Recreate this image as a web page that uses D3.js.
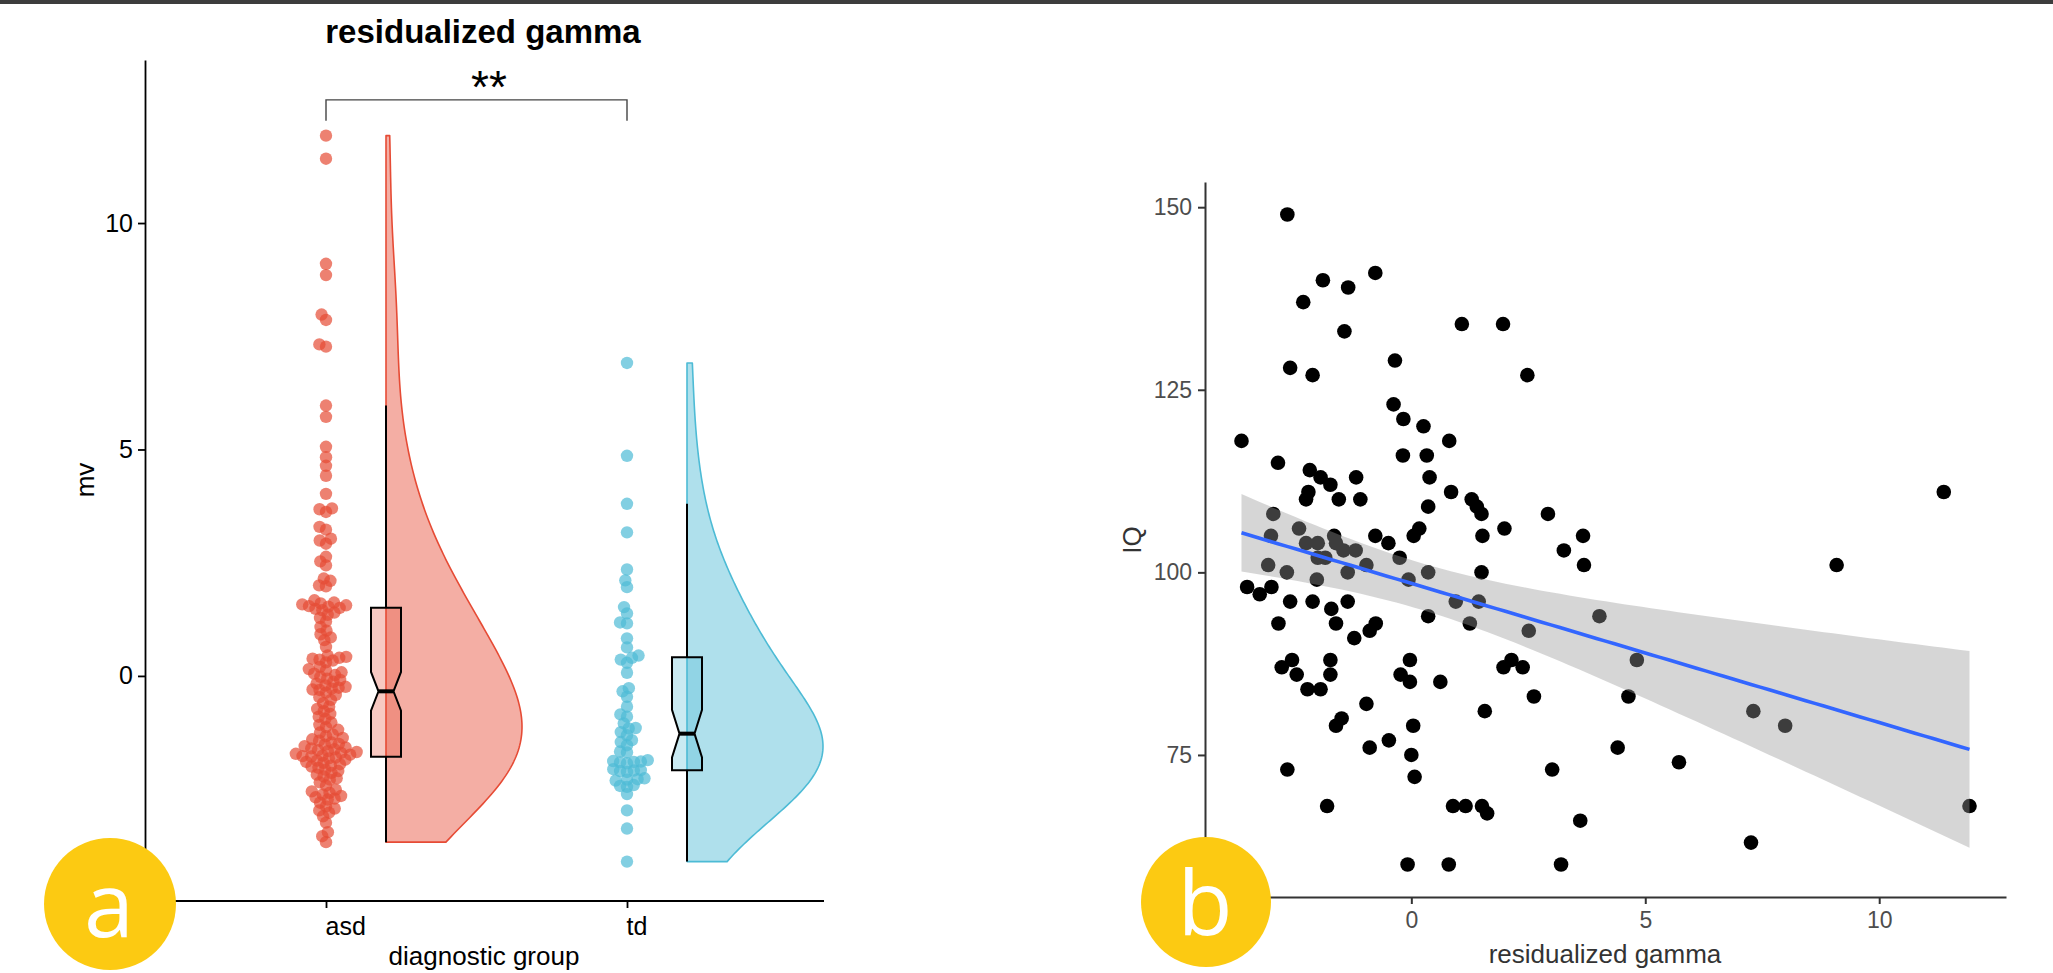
<!DOCTYPE html>
<html>
<head>
<meta charset="utf-8">
<script src="https://cdn.jsdelivr.net/npm/d3@7/dist/d3.min.js"></script>
<style>
html,body{margin:0;padding:0;background:#fff;}
svg{display:block;}
</style>
</head>
<body>
<svg id="chart" width="2053" height="973"></svg>
<script>
// ---------------- DATA ----------------
const groups = ["asd", "td"];
const asdValues = [11.93, 11.42, 9.10, 8.85, 7.98, 7.86, 7.32, 7.27, 5.97, 5.72, 5.06, 4.83, 4.64, 4.42, 4.02,
  3.70, 3.68, 3.62, 3.29, 3.23, 3.03, 2.99, 2.92, 2.63, 2.53, 2.44, 2.15, 2.10, 2.00, 1.98, 1.67, 1.62, 1.60, 1.58, 1.56, 1.54, 1.53,
  1.50, 1.48, 1.45, 1.40, 1.35, 1.28, 1.20, 1.08, 1.00, 0.92, 0.85, 0.79, 0.64, 0.45, 0.42, 0.40, 0.38, 0.36, 0.34, 0.30,
  0.20, 0.15, 0.12, 0.08, 0.05, 0.02, -0.02, -0.06, -0.09, -0.13, -0.17, -0.21, -0.24, -0.26, -0.28, -0.30, -0.31,
  -0.37, -0.42, -0.47, -0.53, -0.60, -0.68, -0.73, -0.78, -0.84, -0.90, -0.95, -1.03, -1.08, -1.13, -1.19, -1.25, -1.29,
  -1.33, -1.37, -1.40, -1.43, -1.47, -1.50, -1.52, -1.55, -1.58, -1.60, -1.62, -1.64, -1.66, -1.68, -1.70, -1.72, -1.74,
  -1.76, -1.77, -1.78, -1.80, -1.82, -1.85, -1.87, -1.90, -1.92, -1.95, -1.98, -2.00, -2.03, -2.07, -2.10, -2.14, -2.18,
  -2.22, -2.26, -2.29, -2.35, -2.42, -2.51, -2.55, -2.58, -2.62, -2.65, -2.68, -2.71, -2.73, -2.80, -2.88, -2.93, -2.97,
  -3.02, -3.10, -3.24, -3.45, -3.54, -3.67];
const tdValues = [6.91, 4.86, 3.80, 3.17, 2.35, 2.11, 1.96, 1.52, 1.38, 1.18, 1.16, 0.83, 0.63, 0.45, 0.40, 0.36, 0.29, 0.07,
  -0.27, -0.34, -0.46, -0.68, -0.85, -0.90, -1.05, -1.15, -1.16, -1.24, -1.31, -1.42, -1.46, -1.53, -1.67, -1.69,
  -1.86, -1.88, -1.89, -1.90, -1.91, -1.93, -2.06, -2.08, -2.09, -2.10, -2.12, -2.26, -2.28, -2.29, -2.31,
  -2.41, -2.43, -2.45, -2.61, -2.97, -3.37, -4.10];
const mvTicks = [0, 5, 10];
const significance = "**";

const gammaValues = [-2.65, -1.89, -1.35, -0.77, -2.31, -1.43, 1.08, 1.96, -2.59, -2.11, -0.35, 2.48, -3.63, -0.38, -0.17,
  0.26, 0.81, -2.85, -2.17, -1.94, -1.73, -1.18, -2.20, -2.25, -1.55, -1.09, -0.18, 0.33, 0.39, 0.85, 1.29, 1.40, 1.50,
  0.36, 2.92, 0.17, 1.99, 1.52, 3.67, 3.26, 3.69, 9.09, 11.38, -2.95, -3.00, -2.40, -2.25, -2.00, -1.65, -1.61, -1.45,
  -1.19, -0.77, -0.49, -0.25, 0.05, -3.06, -2.66, -2.00, -1.84, -0.96, -2.02, -1.36, 0.36, -0.06, 1.50, -3.51, -3.24,
  -2.99, -2.59, -2.11, -1.36, -1.71, 0.95, 1.44, -2.84, -1.61, -0.76, -0.89, -1.22, 0.36, 1.25, 2.51, 4.02, -0.03, 1.97,
  2.14, 2.38, 4.82, -2.77, -2.55, -2.45, -1.73, -1.73, -0.23, -0.03, 0.62, -2.22, -1.94, 2.62, 4.64, -0.96, 1.57, 7.31,
  -1.49, -1.61, 7.99, 0.04, -0.48, -0.89, 4.41, 0.00, 5.72, -2.65, 3.01, 0.07, -1.80, 0.89, 1.16, 1.51, 1.62, 11.93,
  3.61, 7.26, -0.08, 0.80, 3.20];
const iqValues = [149, 140, 139, 141, 137, 133, 134, 134, 128, 127, 129, 127, 118, 123, 121,
  120, 118, 115, 114, 113, 112, 113, 111, 110, 110, 110, 116, 116, 113, 111, 110, 109, 108,
  109, 108, 106, 106, 105, 105, 103, 101, 101, 111, 108, 105, 106, 104, 104, 105, 104, 103,
  103, 105, 104, 102, 105, 101, 100, 102, 102, 101, 99, 100, 100, 99, 100, 98, 97,
  98, 96, 96, 96, 95, 96, 96, 93, 93, 93, 92, 91, 94, 93, 92, 94, 88, 87,
  88, 87, 88, 87, 88, 86, 88, 86, 86, 85, 85, 84, 84, 83, 83, 82, 81, 81,
  80, 79, 79, 79, 77, 76, 76, 75, 74, 73, 73, 72, 68, 68, 68, 68, 67, 68,
  66, 63, 60, 60, 60];
const gammaTicks = [0, 5, 10];
const iqTicks = [75, 100, 125, 150];

// ---------------- SETUP ----------------
const FONT = "'Liberation Sans', Arial, Helvetica, sans-serif";
const svg = d3.select("#chart").attr("font-family", FONT);
svg.append("rect").attr("x", 0).attr("y", 0).attr("width", 2053).attr("height", 4).attr("fill", "#3d3d3d");

// ---------------- PANEL A ----------------
const colors = ["#E64B35", "#4DBBD5"];
const groupData = [asdValues, tdValues];
const xA = d3.scalePoint().domain(groups).range([326, 627]);
const yA = d3.scaleLinear().domain([-4.97, 13.6]).range([901, 60]);
const boxOffset = 60, boxHalf = 15, violinMaxW = 136, bwAdjust = 1.75;

const gA = svg.append("g");

function nrd0(sorted) {
  const s = d3.deviation(sorted);
  const iqr = d3.quantileSorted(sorted, 0.75) - d3.quantileSorted(sorted, 0.25);
  return 0.9 * Math.min(s, iqr / 1.34) * Math.pow(sorted.length, -0.2);
}

function swarmOffsets(vals, y, d) {
  const order = vals.map((v, i) => ({ i, y: y(v) })).sort((a, b) => b.y - a.y);
  const placed = [];
  const off = new Array(vals.length).fill(0);
  order.forEach(p => {
    const near = placed.filter(q => Math.abs(q.y - p.y) < d);
    const cands = [0];
    near.forEach(q => { const dx = Math.sqrt(d * d - (q.y - p.y) ** 2); cands.push(q.x + dx, q.x - dx); });
    cands.sort((a, b) => Math.abs(a) - Math.abs(b) || a - b);
    let x = 0;
    for (const c of cands) {
      if (near.every(q => (q.x - c) ** 2 + (q.y - p.y) ** 2 >= d * d - 1e-6)) { x = c; break; }
    }
    p.x = x; placed.push(p); off[p.i] = x;
  });
  return off;
}

groups.forEach((g, gi) => {
  const vals = groupData[gi];
  const sorted = vals.slice().sort(d3.ascending);
  const col = colors[gi];
  const cx = xA(g) + boxOffset;
  // violin (half, right side)
  const bw = nrd0(sorted) * bwAdjust;
  const lo = sorted[0], hi = sorted[sorted.length - 1];
  const grid = d3.range(256).map(k => lo + (hi - lo) * k / 255);
  const dens = grid.map(t => d3.sum(sorted, v => Math.exp(-0.5 * ((t - v) / bw) ** 2)));
  const wS = d3.scaleLinear().domain([0, d3.max(dens)]).range([0, violinMaxW]);
  const pts = [[cx, yA(lo)]].concat(grid.map((t, k) => [cx + wS(dens[k]), yA(t)])).concat([[cx, yA(hi)]]);
  gA.append("path").attr("d", d3.line()(pts) + "Z")
    .attr("fill", col).attr("fill-opacity", 0.45)
    .attr("stroke", col).attr("stroke-width", 1.6).attr("stroke-linejoin", "round");

  // boxplot
  const q1 = d3.quantileSorted(sorted, 0.25), med = d3.quantileSorted(sorted, 0.5), q3 = d3.quantileSorted(sorted, 0.75);
  const iqr = q3 - q1;
  const upW = d3.max(sorted.filter(v => v <= q3 + 1.5 * iqr));
  const loW = d3.min(sorted.filter(v => v >= q1 - 1.5 * iqr));
  const notch = 1.58 * iqr / Math.sqrt(sorted.length);
  const ni = boxHalf * 0.5;
  const L = cx - boxHalf, R = cx + boxHalf;
  gA.append("line").attr("x1", cx).attr("x2", cx).attr("y1", yA(q3)).attr("y2", yA(upW)).attr("stroke", "#000").attr("stroke-width", 2);
  gA.append("line").attr("x1", cx).attr("x2", cx).attr("y1", yA(q1)).attr("y2", yA(loW)).attr("stroke", "#000").attr("stroke-width", 2);
  const boxPts = [[L, yA(q3)], [L, yA(med + notch)], [L + ni, yA(med)], [L, yA(med - notch)], [L, yA(q1)],
    [R, yA(q1)], [R, yA(med - notch)], [R - ni, yA(med)], [R, yA(med + notch)], [R, yA(q3)]];
  gA.append("path").attr("d", d3.line()(boxPts) + "Z")
    .attr("fill", col).attr("fill-opacity", 0.3)
    .attr("stroke", "#000").attr("stroke-width", 2).attr("stroke-linejoin", "miter");
  gA.append("line").attr("x1", L + ni).attr("x2", R - ni).attr("y1", yA(med)).attr("y2", yA(med))
    .attr("stroke", "#000").attr("stroke-width", 4);

  // dots (beeswarm)
  const offs = swarmOffsets(vals, yA, 7);
  gA.append("g").selectAll("circle").data(vals).join("circle")
    .attr("cx", (v, i) => xA(g) + offs[i]).attr("cy", v => yA(v)).attr("r", 6.2)
    .attr("fill", col).attr("fill-opacity", 0.7);
});

// axes panel A
const axAy = gA.append("g").attr("transform", "translate(145,0)")
  .call(d3.axisLeft(yA).tickValues(mvTicks).tickSize(7).tickPadding(5).tickSizeOuter(0));
axAy.attr("font-family", FONT).attr("font-size", 25);
axAy.select(".domain").attr("stroke", "#000").attr("stroke-width", 1.8);
axAy.selectAll(".tick line").attr("stroke", "#000").attr("stroke-width", 1.8);
axAy.selectAll(".tick text").attr("fill", "#000");

gA.append("line").attr("x1", 145).attr("x2", 824).attr("y1", 901).attr("y2", 901).attr("stroke", "#000").attr("stroke-width", 1.8);
const axAx = gA.append("g").attr("transform", "translate(0,901)")
  .call(d3.axisBottom(xA).tickSize(7).tickPadding(9).tickSizeOuter(0));
axAx.attr("font-family", FONT).attr("font-size", 25);
axAx.select(".domain").remove();
axAx.selectAll(".tick line").attr("stroke", "#000").attr("stroke-width", 1.8);
axAx.selectAll(".tick text").attr("fill", "#000").attr("text-anchor", "start").attr("x", -1);

gA.append("text").attr("x", 484).attr("y", 965).attr("text-anchor", "middle").attr("font-size", 26).attr("fill", "#000").text("diagnostic group");
gA.append("text").attr("transform", "translate(94,480) rotate(-90)").attr("text-anchor", "middle").attr("font-size", 26).attr("fill", "#000").text("mv");
gA.append("text").attr("x", 483).attr("y", 43).attr("text-anchor", "middle").attr("font-size", 33).attr("font-weight", "bold").attr("fill", "#000").text("residualized gamma");

// significance bracket
const brY = yA(12.72), brDrop = yA(12.26);
gA.append("path").attr("d", `M${xA("asd")},${brDrop}V${brY}H${xA("td")}V${brDrop}`)
  .attr("fill", "none").attr("stroke", "#444").attr("stroke-width", 1.4);
gA.append("text").attr("x", 489).attr("y", 103).attr("text-anchor", "middle").attr("font-size", 46).attr("fill", "#000").text(significance);

// ---------------- PANEL B ----------------
const gB = svg.append("g");
const xB = d3.scaleLinear().domain([-4.41, 12.71]).range([1205, 2006]);
const yB = d3.scaleLinear().domain([55.55, 153.45]).range([897, 182]);

gB.append("g").selectAll("circle").data(gammaValues).join("circle")
  .attr("cx", d => xB(d)).attr("cy", (d, i) => yB(iqValues[i])).attr("r", 7.3).attr("fill", "#000");

// linear regression with 95% CI
const n = gammaValues.length;
const mx = d3.mean(gammaValues), my = d3.mean(iqValues);
let sxx = 0, sxy = 0;
for (let i = 0; i < n; i++) { sxx += (gammaValues[i] - mx) ** 2; sxy += (gammaValues[i] - mx) * (iqValues[i] - my); }
const b1 = sxy / sxx, b0 = my - b1 * mx;
let sse = 0;
for (let i = 0; i < n; i++) sse += (iqValues[i] - b0 - b1 * gammaValues[i]) ** 2;
const sres = Math.sqrt(sse / (n - 2));
const tcrit = 1.979;
const [gmin, gmax] = d3.extent(gammaValues);
const fitGrid = d3.range(81).map(k => gmin + (gmax - gmin) * k / 80).map(x => {
  const fit = b0 + b1 * x;
  const se = sres * Math.sqrt(1 / n + (x - mx) ** 2 / sxx);
  return { x, fit, lo: fit - tcrit * se, hi: fit + tcrit * se };
});
gB.append("path").datum(fitGrid)
  .attr("d", d3.area().x(d => xB(d.x)).y0(d => yB(d.lo)).y1(d => yB(d.hi)))
  .attr("fill", "#999999").attr("fill-opacity", 0.4);
gB.append("path").datum(fitGrid)
  .attr("d", d3.line().x(d => xB(d.x)).y(d => yB(d.fit)))
  .attr("fill", "none").attr("stroke", "#3366FF").attr("stroke-width", 3.6);

const axBy = gB.append("g").attr("transform", "translate(1205,0)")
  .call(d3.axisLeft(yB).tickValues(iqTicks).tickSize(7).tickPadding(6).tickSizeOuter(0));
axBy.attr("font-family", FONT).attr("font-size", 23);
axBy.select(".domain").attr("stroke", "#333").attr("stroke-width", 2);
axBy.selectAll(".tick line").attr("stroke", "#333").attr("stroke-width", 2);
axBy.selectAll(".tick text").attr("fill", "#4D4D4D");

const axBx = gB.append("g").attr("transform", "translate(0,897)")
  .call(d3.axisBottom(xB).tickValues(gammaTicks).tickSize(7).tickPadding(8).tickSizeOuter(0));
axBx.attr("font-family", FONT).attr("font-size", 23);
axBx.select(".domain").attr("stroke", "#333").attr("stroke-width", 2);
axBx.selectAll(".tick line").attr("stroke", "#333").attr("stroke-width", 2);
axBx.selectAll(".tick text").attr("fill", "#4D4D4D");

gB.append("text").attr("x", 1605).attr("y", 963).attr("text-anchor", "middle").attr("font-size", 26).attr("fill", "#333").text("residualized gamma");
gB.append("text").attr("transform", "translate(1141,540) rotate(-90)").attr("text-anchor", "middle").attr("font-size", 26).attr("fill", "#333").text("IQ");

// ---------------- BADGES ----------------
const badges = [{ label: "a", cx: 110, cy: 904, r: 66 }, { label: "b", cx: 1206, cy: 902, r: 65 }];
badges.forEach(b => {
  svg.append("circle").attr("cx", b.cx).attr("cy", b.cy).attr("r", b.r).attr("fill", "#FCCA12");
  svg.append("text").attr("x", b.cx - 1).attr("y", b.cy + 33).attr("text-anchor", "middle")
    .attr("font-family", "'Open Sans', 'Noto Sans', sans-serif").attr("font-size", 90).attr("fill", "#fff").text(b.label);
});
</script>
</body>
</html>
